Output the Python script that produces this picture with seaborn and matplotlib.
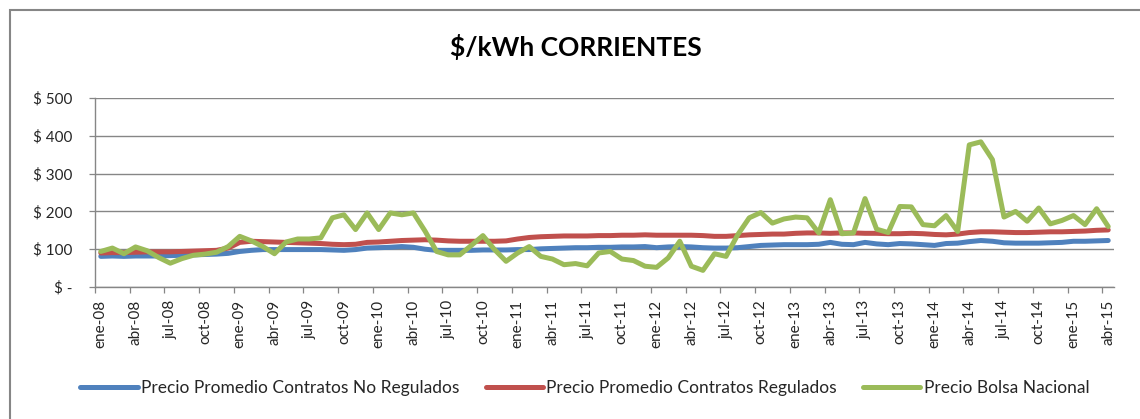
import pandas as pd
import matplotlib
matplotlib.use("Agg")
import matplotlib.pyplot as plt
import matplotlib.patches as mpatches
from matplotlib.lines import Line2D
import seaborn as sns

# DATA - monthly, ene-08 .. abr-15 (88 months)
no_regulados = [81, 82, 81, 82, 82, 82, 83, 84, 85, 86, 87, 89,
                94, 97, 99, 99, 99, 99, 99, 99, 98, 97, 99, 103,
                104, 105, 107, 105, 100, 97, 97, 97, 97, 98, 98, 98,
                99, 99, 101, 102, 103, 104, 104, 105, 105, 106, 106, 107,
                104, 106, 107, 106, 104, 103, 103, 104, 107, 110, 111, 112,
                112, 112, 113, 118, 113, 112, 118, 114, 112, 115, 114, 112,
                110, 115, 116, 120, 123, 121, 117, 116, 116, 116, 117, 118,
                121, 121, 122, 123]

regulados = [90, 91, 91, 92, 93, 93, 93, 94, 95, 96, 97, 103,
             118, 121, 120, 119, 118, 117, 116, 115, 113, 112, 113, 118,
             119, 121, 123, 124, 125, 124, 122, 121, 121, 121, 121, 122,
             127, 131, 133, 134, 135, 135, 135, 136, 136, 137, 137, 138,
             137, 137, 137, 137, 136, 134, 134, 136, 138, 139, 140, 140,
             142, 143, 143, 142, 143, 143, 142, 142, 141, 141, 142, 141,
             139, 138, 140, 144, 146, 146, 145, 144, 144, 145, 146, 146,
             147, 148, 150, 151]

bolsa = [94, 103, 88, 106, 96, 78, 63, 75, 84, 87, 92, 107,
         134, 122, 107, 88, 119, 127, 127, 130, 183, 191, 152, 196,
         152, 196, 191, 196, 148, 94, 85, 85, 110, 136, 99, 68,
         90, 107, 81, 74, 59, 62, 56, 90, 94, 74, 70, 55,
         52, 77, 121, 55, 44, 88, 81, 138, 183, 197, 169, 180,
         185, 183, 143, 231, 141, 143, 234, 153, 144, 213, 212, 165,
         162, 189, 147, 376, 384, 337, 185, 200, 174, 209, 167, 176,
         189, 165, 207, 160]

tick_labels = ['ene-08', 'abr-08', 'jul-08', 'oct-08', 'ene-09', 'abr-09', 'jul-09', 'oct-09',
               'ene-10', 'abr-10', 'jul-10', 'oct-10', 'ene-11', 'abr-11', 'jul-11', 'oct-11',
               'ene-12', 'abr-12', 'jul-12', 'oct-12', 'ene-13', 'abr-13', 'jul-13', 'oct-13',
               'ene-14', 'abr-14', 'jul-14', 'oct-14', 'ene-15', 'abr-15']

series_names = ['Precio Promedio Contratos No Regulados',
                'Precio Promedio Contratos Regulados',
                'Precio Bolsa Nacional']
colores = ['#4F81BD', '#C0504D', '#9BBB59']
y_ticks = [0, 100, 200, 300, 400, 500]
y_labels = ['$ -', '$ 100', '$ 200', '$ 300', '$ 400', '$ 500']

# long format table for seaborn
n = len(bolsa)
df = pd.DataFrame({
    'mes': list(range(n)) * 3,
    'valor': no_regulados + regulados + bolsa,
    'serie': [series_names[0]] * n + [series_names[1]] * n + [series_names[2]] * n,
})

sns.set_theme(style="white")
plt.rcParams['font.family'] = ['Lato', 'DejaVu Sans']
grey = '#868686'

fig = plt.figure(figsize=(11.4, 4.19), dpi=100)
ax = fig.add_axes([95 / 1140, 132 / 419, 1019 / 1140, 189 / 419])

sns.lineplot(data=df, x='mes', y='valor', hue='serie', hue_order=series_names,
             palette=dict(zip(series_names, colores)), linewidth=3.6,
             legend=False, ax=ax)

ax.set_xlim(-0.5, n - 0.5)
ax.set_ylim(0, 500)
ax.set_xlabel('')
ax.set_ylabel('')

# y axis
ax.set_yticks(y_ticks)
ax.set_yticklabels(y_labels, fontsize=11)
ax.tick_params(axis='y', length=4.3, width=0.9, color=grey, pad=12, left=True)
ax.yaxis.grid(True, color=grey, linewidth=1.0)
ax.xaxis.grid(False)

# x axis: labels at category centers, tick marks at boundaries
ax.set_xticks(list(range(0, n, 3)))
ax.set_xticklabels(tick_labels, rotation=90, fontsize=11)
ax.tick_params(axis='x', which='major', length=0, pad=9)
ax.set_xticks([i - 0.5 for i in range(0, n + 1, 3)], minor=True)
ax.tick_params(axis='x', which='minor', length=4, width=0.9, color=grey, bottom=True)

for side in ['top', 'right']:
    ax.spines[side].set_visible(False)
for side in ['left', 'bottom']:
    ax.spines[side].set_color(grey)
    ax.spines[side].set_linewidth(1.0)

fig.text(576 / 1140, 1 - 47 / 419, '$/kWh CORRIENTES', ha='center', va='center',
         fontsize=19, fontweight='bold', color='black')

handles = [Line2D([], [], color=c, linewidth=3.6, solid_capstyle='round') for c in colores]
fig.legend(handles, series_names, loc='center', bbox_to_anchor=(585 / 1140, 1 - 388 / 419),
           ncol=3, frameon=False, fontsize=12.5, handlelength=3.3, handletextpad=0.2,
           columnspacing=1.5)

# chart frame
fig.patches.append(mpatches.Rectangle((10 / 1140, -0.1), 1.2, 1.1 - 10 / 419,
                                      transform=fig.transFigure, fill=False,
                                      edgecolor=grey, linewidth=1.5))

fig.savefig('out.png', dpi=100)
